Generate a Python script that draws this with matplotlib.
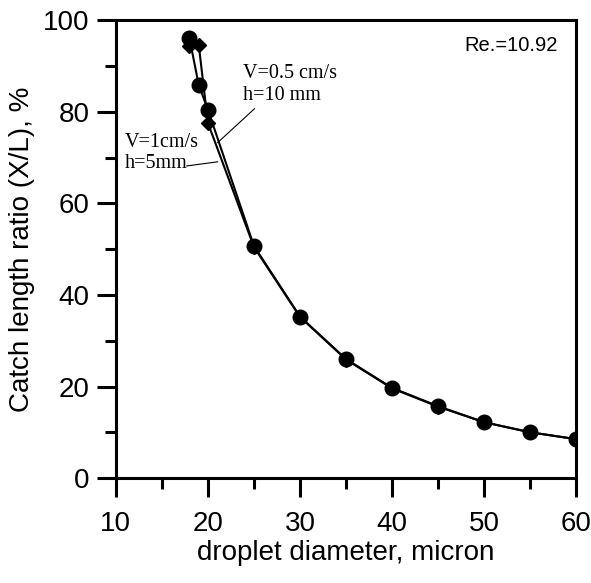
import numpy as np
import matplotlib
matplotlib.use("Agg")
import matplotlib.pyplot as plt

plt.rcParams['font.family'] = ['Liberation Sans', 'DejaVu Sans']

# droplet diameter (micron)
d = [18, 19, 20, 25, 30, 35, 40, 45, 50, 55, 60]
# V=1cm/s, h=5mm  (circles)
ratio_1 = [96.1, 85.9, 80.5, 50.7, 35.3, 26.0, 19.7, 15.7, 12.2, 10.0, 8.5]
# V=0.5 cm/s, h=10 mm  (diamonds)
ratio_05 = [94.3, 94.7, 77.6, 50.5, 35.2, 25.9, 19.6, 15.6, 12.2, 10.0, 8.5]

fig = plt.figure(figsize=(5.91, 5.83), dpi=100)
ax = fig.add_axes([0.196, 0.180, 0.779, 0.785])

ax.plot(d, ratio_05, '-', color='black', lw=1.5, marker='D', ms=7, zorder=3)
ax.plot(d, ratio_1, '-', color='black', lw=1.5, marker='o', ms=10.5, zorder=4)

ax.set_xlim(10, 60)
ax.set_ylim(0, 100)
ax.set_xticks([10, 20, 30, 40, 50, 60])
ax.set_xticks([15, 25, 35, 45, 55], minor=True)
ax.set_yticks([0, 20, 40, 60, 80, 100])
ax.set_yticks([10, 30, 50, 70, 90], minor=True)
ax.tick_params(which='major', direction='out', length=14, width=2.2,
               labelsize=20, pad=5)
ax.tick_params(which='minor', direction='out', length=8, width=2.2)
ax.tick_params(axis='x', which='major', pad=10)
for s in ax.spines.values():
    s.set_linewidth(2.2)
    s.set_clip_on(False)

ax.set_xlabel('droplet diameter, micron', fontsize=20, labelpad=2)
ax.set_ylabel('Catch length ratio (X/L), %', fontsize=20, labelpad=6)

ax.text(58.0, 94.6, 'Re.=10.92', fontsize=14.5, ha='right', va='center')

serif = ['Liberation Serif', 'DejaVu Serif']
ax.text(23.8, 86.0, 'V=0.5 cm/s\nh=10 mm', fontsize=14.5, family=serif,
        ha='left', va='center', linespacing=1.15)
ax.text(11.0, 71.0, 'V=1cm/s\nh=5mm', fontsize=14.5, family=serif,
        ha='left', va='center', linespacing=1.15)
ax.plot([25.06, 21.06], [80.7, 73.3], color='black', lw=0.8)
ax.plot([17.7, 21.06], [68.2, 69.1], color='black', lw=0.8)

fig.savefig('out.png', dpi=100)
